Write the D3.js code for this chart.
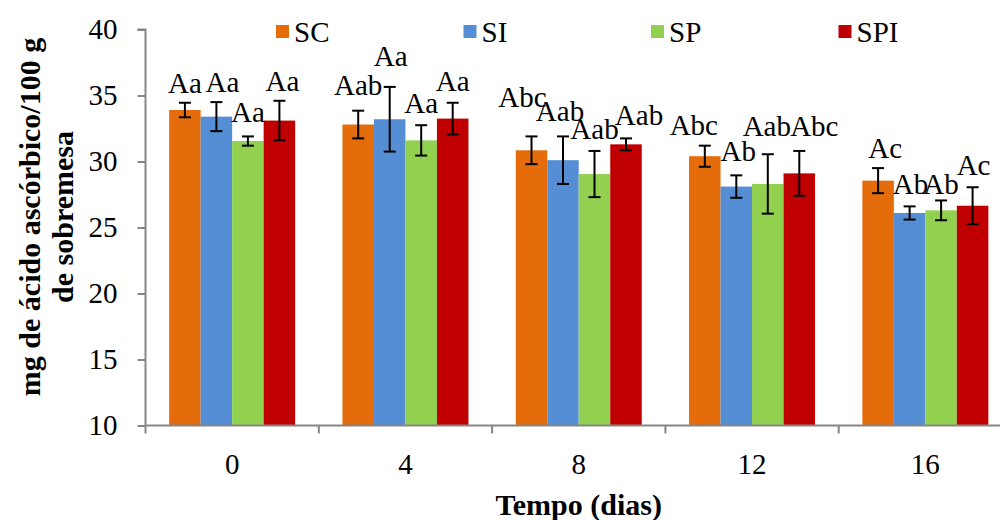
<!DOCTYPE html>
<html>
<head>
<meta charset="utf-8">
<script src="https://cdn.jsdelivr.net/npm/d3@7"></script>
<style>
  body { margin: 0; background: #fff; }
  svg { display: block; }
</style>
</head>
<body>
<svg id="chart" width="1000" height="520"></svg>
<script>
// data {{{ //

const days = ["0", "4", "8", "12", "16"];
const series = ["SC", "SI", "SP", "SPI"];
const colors = ["#E46C0A", "#558ED5", "#92D050", "#C00000"];

const scMean = [33.9, 32.8, 30.85, 30.4, 28.55];
const siMean = [33.4, 33.2, 30.1, 28.1, 26.1];
const spMean = [31.55, 31.6, 29.05, 28.3, 26.3];
const spiMean = [33.1, 33.25, 31.3, 29.1, 26.65];

const scErr = [0.55, 1.05, 1.05, 0.8, 0.95];
const siErr = [1.1, 2.45, 1.8, 0.85, 0.5];
const spErr = [0.35, 1.15, 1.75, 2.25, 0.75];
const spiErr = [1.5, 1.2, 0.45, 1.7, 1.4];

const scLetters = ["Aa", "Aab", "Abc", "Abc", "Ac"];
const siLetters = ["Aa", "Aa", "Aab", "Ab", "Ab"];
const spLetters = ["Aa", "Aa", "Aab", "Aab", "Ab"];
const spiLetters = ["Aa", "Aa", "Aab", "Abc", "Ac"];

const yTicks = [10, 15, 20, 25, 30, 35, 40];

// }}} data //

// label nudges (px, hand placed in the original to dodge each other) {{{ //
// [dx, dy] per series per day, dy measured from the top of the error bar
const labelNudge = [
  [[0, -10], [0, -16], [-9, -29], [-11, -11], [7, -10]],
  [[6, -10], [1, -21], [-3, -15], [2, -14], [1, -12]],
  [[0, -14], [0, -12], [0, -12], [-1, -18], [0, -6]],
  [[3, -10], [0, -12], [13, -13], [15, -15], [1, -12]]
];
// }}} label nudges //

const FONT = "'Liberation Serif', 'Times New Roman', 'DejaVu Serif', serif";

const means = [scMean, siMean, spMean, spiMean];
const errs = [scErr, siErr, spErr, spiErr];
const letters = [scLetters, siLetters, spLetters, spiLetters];

const rows = [];
series.forEach(function(s, i) {
  days.forEach(function(d, j) {
    rows.push({
      series: s, si: i, day: d, dj: j,
      mean: means[i][j], err: errs[i][j], label: letters[i][j]
    });
  });
});

const svg = d3.select("#chart").attr("font-family", FONT);
const margin = {top: 29.5, left: 145.5, bottom: 425.5, right: 1012};

// scales {{{ //

const x0 = d3.scaleBand()
  .domain(days)
  .range([margin.left, margin.right])
  .paddingInner(0.273)
  .paddingOuter(0.1365);

const x1 = d3.scaleBand()
  .domain(series)
  .range([0, x0.bandwidth()]);

const y = d3.scaleLinear()
  .domain([10, 40])
  .range([margin.bottom, margin.top]);

const color = d3.scaleOrdinal().domain(series).range(colors);

// }}} scales //

// bars {{{ //

svg.append("g")
  .selectAll("rect")
  .data(rows)
  .enter().append("rect")
  .attr("x", d => x0(d.day) + x1(d.series))
  .attr("y", d => y(d.mean))
  .attr("width", x1.bandwidth())
  .attr("height", d => y(10) - y(d.mean))
  .attr("fill", d => color(d.series));

// }}} bars //

// error bars {{{ //

const eb = svg.append("g")
  .attr("stroke", "#000")
  .attr("stroke-width", 2)
  .selectAll("g")
  .data(rows)
  .enter().append("g")
  .attr("transform", d => "translate(" + (x0(d.day) + x1(d.series) + x1.bandwidth() / 2) + ",0)");

eb.append("line")
  .attr("y1", d => y(d.mean + d.err))
  .attr("y2", d => y(d.mean - d.err));
eb.append("line")
  .attr("x1", -6).attr("x2", 6)
  .attr("y1", d => y(d.mean + d.err))
  .attr("y2", d => y(d.mean + d.err));
eb.append("line")
  .attr("x1", -6).attr("x2", 6)
  .attr("y1", d => y(d.mean - d.err))
  .attr("y2", d => y(d.mean - d.err));

// }}} error bars //

// letters {{{ //

svg.append("g")
  .selectAll("text")
  .data(rows)
  .enter().append("text")
  .attr("x", d => x0(d.day) + x1(d.series) + x1.bandwidth() / 2 + labelNudge[d.si][d.dj][0])
  .attr("y", d => y(d.mean + d.err) + labelNudge[d.si][d.dj][1])
  .attr("text-anchor", "middle")
  .attr("font-family", FONT)
  .attr("font-size", 29)
  .attr("fill", "#000")
  .text(d => d.label);

// }}} letters //

// y-axis {{{ //

const yAxis = svg.append("g")
  .attr("transform", "translate(" + margin.left + ",0)")
  .call(d3.axisLeft(y).tickValues(yTicks).tickSize(8).tickPadding(20));
yAxis.attr("font-family", FONT).attr("font-size", 29);
yAxis.selectAll("path, line").attr("stroke", "#868686").attr("stroke-width", 2);
yAxis.select(".domain").attr("d", "M-8," + y(40) + "H0V" + y(10));
yAxis.selectAll(".tick text").attr("fill", "#000");

// }}} y-axis //

// x-axis {{{ //

const xAxis = svg.append("g")
  .attr("transform", "translate(0," + margin.bottom + ")")
  .call(d3.axisBottom(x0).tickSize(0));
xAxis.attr("font-family", FONT).attr("font-size", 29);
xAxis.select(".domain")
  .attr("stroke", "#868686").attr("stroke-width", 2)
  .attr("d", "M" + margin.left + ",0H1000");
xAxis.selectAll(".tick text")
  .attr("y", 48).attr("dy", 0)
  .attr("fill", "#000");

// ticks sit between the categories
const half = x0.step() * x0.paddingInner() / 2;
xAxis.append("g")
  .selectAll("line")
  .data(days)
  .enter().append("line")
  .attr("x1", d => x0(d) - half)
  .attr("x2", d => x0(d) - half)
  .attr("y1", 0).attr("y2", 8)
  .attr("stroke", "#868686").attr("stroke-width", 2);

// }}} x-axis //

// titles {{{ //

svg.append("text")
  .attr("x", (margin.left + margin.right) / 2)
  .attr("y", 515)
  .attr("text-anchor", "middle")
  .attr("font-weight", "bold")
  .attr("font-size", 30)
  .text("Tempo (dias)");

const yTitle = svg.append("text")
  .attr("transform", "translate(40,217) rotate(-90)")
  .attr("text-anchor", "middle")
  .attr("font-weight", "bold")
  .attr("font-size", 30);
yTitle.append("tspan").attr("x", 0).attr("y", 0).text("mg de ácido ascórbico/100 g");
yTitle.append("tspan").attr("x", 0).attr("y", 33).text("de sobremesa");

// }}} titles //

// legend {{{ //

const legend = svg.append("g")
  .selectAll("g")
  .data(series)
  .enter().append("g")
  .attr("transform", (d, i) => "translate(" + (276 + i * 187.5) + ",0)");
legend.append("rect")
  .attr("x", 0).attr("y", 25)
  .attr("width", 13).attr("height", 13)
  .attr("fill", d => color(d));
legend.append("text")
  .attr("x", 18).attr("y", 42)
  .attr("font-size", 29)
  .text(d => d);

// }}} legend //
</script>
</body>
</html>
